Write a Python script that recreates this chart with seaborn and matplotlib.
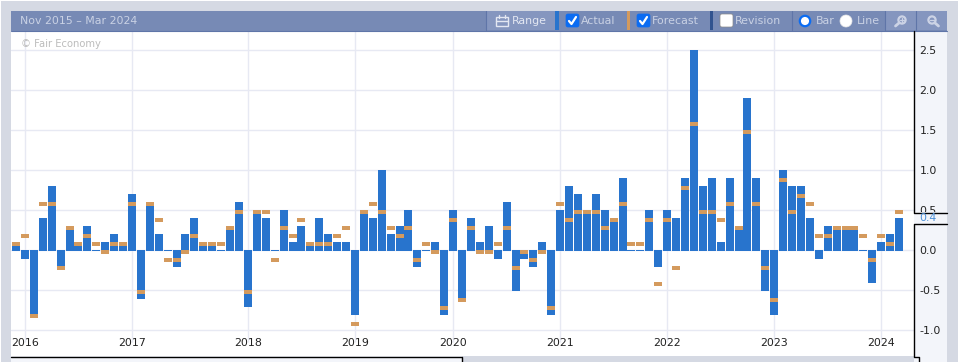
import pandas as pd
import numpy as np
import matplotlib
matplotlib.use("Agg")
import matplotlib.pyplot as plt
from matplotlib.patches import Rectangle, FancyBboxPatch, Circle
from matplotlib.path import Path
import seaborn as sns

# DATA
actual = [0.1, -0.1, -0.8, 0.4, 0.8, -0.2, 0.3, 0.1, 0.3, 0.0, 0.1, 0.2, 0.1, 0.7, -0.6, 0.6, 0.2, 0.0, -0.2, 0.2,
          0.4, 0.1, 0.1, 0.0, 0.3, 0.6, -0.7, 0.5, 0.4, 0.0, 0.5, 0.1, 0.3, 0.1, 0.4,
          0.2, 0.1, 0.1, -0.8, 0.5, 0.4, 1.0, 0.2, 0.3, 0.5, -0.2, 0.0, 0.1, -0.8, 0.5, -0.6, 0.4, 0.1, 0.3, -0.1,
          0.6, -0.5, -0.1, -0.2, 0.1, -0.8, 0.5, 0.8, 0.7, 0.5, 0.7, 0.5, 0.4, 0.9, 0.0, 0.0,
          0.5, -0.2, 0.5, 0.4, 0.9, 2.5, 0.8, 0.9, 0.1, 0.9, 0.3, 1.9, 0.9, -0.5, -0.8, 1.0, 0.8, 0.8, 0.4, -0.1,
          0.3, 0.3, 0.3, 0.3, 0.0, -0.4, 0.1, 0.2, 0.4]
forecast = [0.1, 0.2, -0.8, 0.6, 0.6, -0.2, 0.3, 0.1, 0.2, 0.1, 0.0, 0.1, 0.1, 0.6, -0.5, 0.6, 0.4, -0.1, -0.1, 0.0,
            0.2, 0.1, 0.1, 0.1, 0.3, 0.5, -0.5, 0.5, 0.5, -0.1, 0.3, 0.2, 0.4, 0.1, 0.1,
            0.1, 0.2, 0.3, -0.9, 0.5, 0.6, 0.5, 0.3, 0.2, 0.3, -0.1, 0.1, 0.0, -0.7, 0.4, -0.6, 0.3, 0.0, 0.0, 0.1,
            0.3, -0.2, 0.0, -0.1, 0.0, -0.7, 0.6, 0.4, 0.5, 0.5, 0.5, 0.3, 0.4, 0.6, 0.1, 0.1,
            0.4, -0.4, 0.4, -0.2, 0.8, 1.6, 0.5, 0.5, 0.4, 0.6, 0.3, 1.5, 0.6, -0.2, -0.6, 0.9, 0.5, 0.7, 0.6, 0.2,
            0.2, 0.3, 0.3, 0.3, 0.2, -0.1, 0.2, 0.1, 0.5]
year_labels = ["2016", "2017", "2018", "2019", "2020", "2021", "2022", "2023", "2024"]
year_index = [1, 13, 26, 38, 49, 61, 73, 85, 97]
y_ticks = [-1.0, -0.5, 0.0, 0.5, 1.0, 1.5, 2.0, 2.5]
latest = actual[-1]

BLUE = "#2874cd"
ORANGE = "#d49a5d"
GRID = "#e7e9f3"
FRAME = "#d5d9e3"
PANEL = "#f3f5fa"
HEADER = "#778ab5"
BUTTON = "#8596bf"
LIGHT = "#d3d9e8"

df = pd.DataFrame({"month": range(len(actual)), "actual": actual, "forecast": forecast})

sns.set_style("white")
plt.rcParams["font.family"] = ["DejaVu Sans"]

W, H = 958, 362
fig = plt.figure(figsize=(W / 100, H / 100), dpi=100, facecolor="white")


def pixel_axes(z):
    a = fig.add_axes([0, 0, 1, 1], zorder=z)
    a.set_xlim(0, W)
    a.set_ylim(H, 0)
    a.axis("off")
    a.patch.set_alpha(0)
    return a


# WINDOW FRAME
back = pixel_axes(0)
back.add_patch(Rectangle((1, 1), W, H, color=FRAME, lw=0))
back.add_patch(Rectangle((914, 31), 33, 331, color=PANEL, lw=0))
back.add_patch(Rectangle((11, 356), 451, 6, color=PANEL, lw=0))
back.add_patch(Rectangle((919, 356), 28, 6, color=PANEL, lw=0))

# CHART
ax = fig.add_axes([11 / W, 1 - 356 / H, 903 / W, 325 / H], zorder=2, facecolor="white")
step = 8.92
for v in y_ticks:
    ax.axhline(v, color=GRID, lw=1, zorder=0)
ax.vlines(year_index, -1.15, 2.74, color=GRID, lw=1, zorder=0)

sns.barplot(data=df, x="month", y="actual", native_scale=True, color=BLUE, saturation=1,
            width=0.9, errorbar=None, ax=ax, zorder=2, linewidth=0)
# bars sit one pixel under the zero line
for bar in ax.patches:
    h = bar.get_height()
    if h >= 0:
        bar.set_y(-0.0125)
        bar.set_height(h + 0.0125)
    else:
        bar.set_height(h - 0.0125)

tick_mark = Path([(-1, 0), (1, 0), (1, -1), (-1, -1), (-1, 0)])
sns.scatterplot(data=df, x="month", y="forecast", marker=tick_mark, s=33, color=ORANGE,
                linewidth=0, ax=ax, zorder=3, legend=False)

ax.set_xlim(-5 / step, 898 / step)
ax.set_ylim(-106 / 80, 219 / 80)
ax.set_xlabel("")
ax.set_ylabel("")
ax.set_xticks(year_index)
ax.set_xticklabels(year_labels)
ax.set_yticks(y_ticks)
ax.set_yticklabels([f"{v:.1f}" for v in y_ticks])
ax.yaxis.tick_right()
ax.tick_params(axis="y", length=0, pad=4, labelsize=7.9, labelcolor="#222222")
ax.tick_params(axis="x", length=0, pad=-13, labelsize=7.9, labelcolor="#222222")
for spine in ax.spines.values():
    spine.set_visible(False)
ax.text(21 / W, 1 - 44 / H, "\u00a9 Fair Economy", transform=fig.transFigure, fontsize=7.2,
        color="#bcbcbc", va="center", zorder=1)

# HEADER, AXIS LINES, LAST VALUE BOX
front = pixel_axes(5)
front.add_patch(Rectangle((11, 11), 936, 20, color=HEADER, lw=0))
front.plot([11, 947], [30.5, 30.5], color="#5f75a8", lw=0.8)
front.add_patch(Rectangle((487, 11), 68, 19, color=BUTTON, lw=0))
front.add_patch(Rectangle((885, 11), 31, 19, color=BUTTON, lw=0))
front.add_patch(Rectangle((916, 11), 31, 19, color=BUTTON, lw=0))
front.add_patch(Rectangle((555, 11), 4, 19, color=BLUE, lw=0))
front.add_patch(Rectangle((627, 11), 3, 19, color=ORANGE, lw=0))
front.add_patch(Rectangle((710, 11), 3, 19, color="#31538f", lw=0))
for x in [486.5, 792.5, 885.5, 916.5]:
    front.plot([x, x], [11, 30], color="#5f75a8", lw=0.8)

def label(x, s, color=LIGHT):
    front.text(x, 21, s, color=color, fontsize=7.9, va="center", ha="left")

label(20, "Nov 2015 \u2013 Mar 2024", "#c9d1e4")
label(512, "Range", "#e3e7f2")
label(581, "Actual", "#c9d1e4")
label(652, "Forecast", "#c9d1e4")
label(735, "Revision", "#c9d1e4")
label(816, "Bar", "#c9d1e4")
label(857, "Line", "#c9d1e4")


def checkbox(x, fill, checked):
    front.add_patch(FancyBboxPatch((x + 2, 16), 9, 9, boxstyle="round,pad=2,rounding_size=2",
                                   fc=fill, ec="#8a8a8a" if not checked else fill, lw=0.5))
    if checked:
        front.plot([x + 3, x + 5.5, x + 10], [21, 24, 17], color="white", lw=1.6)


checkbox(566, "#0b6cf2", True)
checkbox(637, "#0b6cf2", True)
checkbox(720, "white", False)
front.add_patch(Circle((805, 21), 5.2, fc="white", ec="#0b6cf2", lw=1.6))
front.add_patch(Circle((846, 21), 6, fc="white", ec="#e8e8e8", lw=0.5))

# calendar icon
front.add_patch(Rectangle((496.5, 17), 12, 9, fc="none", ec="#e3e7f2", lw=1))
front.plot([496.5, 508.5], [20.5, 20.5], color="#e3e7f2", lw=1)
for x in [499.5, 505.5]:
    front.plot([x, x], [15, 18], color="#e3e7f2", lw=1)

# zoom icons
for cx, plus in [(902, True), (932, False)]:
    front.add_patch(Circle((cx, 20), 3.6, fc="none", ec="#ccd3e5", lw=1.6))
    front.plot([cx + 3 if not plus else cx - 3, cx + 6.5 if not plus else cx - 6.5],
               [23, 26], color="#ccd3e5", lw=2)
    front.plot([cx - 2, cx + 2], [20, 20], color="#ccd3e5", lw=0.9)
    if plus:
        front.plot([cx, cx], [18, 22], color="#ccd3e5", lw=0.9)

# right axis with the box for the last value
front.add_patch(Rectangle((914, 212), 33, 11, fc=PANEL, lw=0))
front.plot([914.5, 914.5, 947], [31, 212.5, 212.5], color="black", lw=1)
front.plot([947, 914.5, 914.5, 919.5, 919.5], [223.5, 223.5, 356.5, 356.5, 362], color="black", lw=1)
front.plot([11, 462.5, 462.5], [356.5, 356.5, 362], color="black", lw=1)
front.text(919.5, 218, f"{latest:.1f}", color="#4a90d9", fontsize=7.9, va="center", ha="left")

fig.savefig("out.png", dpi=100)
